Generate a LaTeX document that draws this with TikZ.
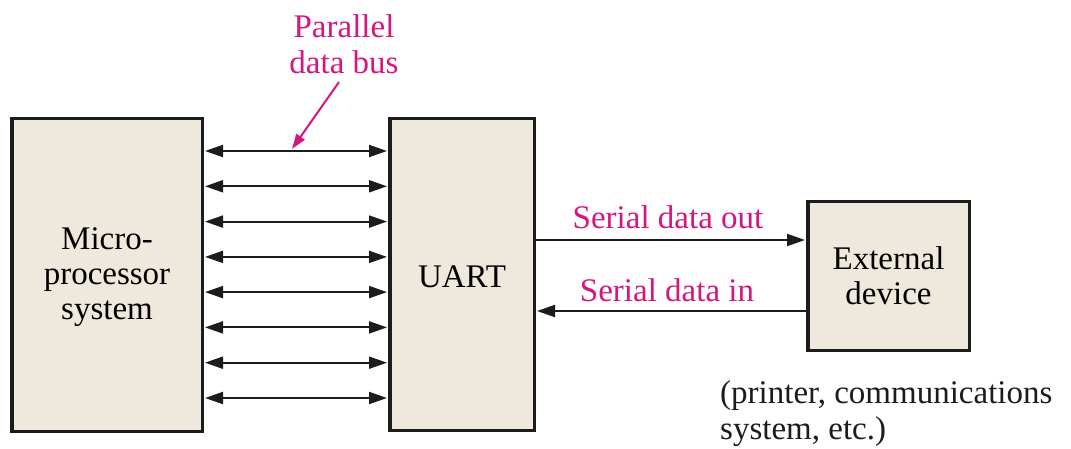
\documentclass[tikz,border=0pt]{standalone}
\usepackage{fontspec}
\setmainfont{Liberation Serif}
\usetikzlibrary{arrows.meta}
\definecolor{boxfill}{RGB}{238,233,220}
\definecolor{labelpink}{RGB}{214,22,126}
\definecolor{ink}{RGB}{28,28,28}
% invisible strut that lowers the first line of a block label a little
\newcommand{\firststrut}{\rule{0pt}{27pt}}
\begin{document}
\begin{tikzpicture}[x=1pt,y=-1pt,
  block/.style={draw=ink, line width=3.5pt, fill=boxfill, inner sep=0pt,
    align=center, font=\fontsize{33}{35}\selectfont},
  bus/.style={draw=ink, line width=2pt, {Triangle[length=18pt,width=12pt]}-{Triangle[length=18pt,width=12pt]}, shorten <=1pt, shorten >=1pt},
  serial/.style={draw=ink, line width=2pt, -{Triangle[length=18pt,width=12pt]}, shorten >=1pt},
  pinktext/.style={text=labelpink, align=center, font=\fontsize{33}{36}\selectfont, inner sep=0pt},
  plaintext/.style={text=ink, align=left, font=\fontsize{33}{36}\selectfont, inner sep=0pt},
  pointer/.style={draw=labelpink, line width=2pt, -{Triangle[length=15pt,width=10pt]}}
]
\useasboundingbox (0,0) rectangle (1071,449);

% blocks
\node[block, minimum width=190.5pt, minimum height=312.5pt] (micro) at (107,275)
  {\firststrut Micro-\\processor\\system};
\node[block, minimum width=144.5pt, minimum height=311.5pt] (uart) at (462,274.5)
  {\firststrut UART};
\node[block, minimum width=161.5pt, minimum height=148.5pt] (ext) at (888.5,276)
  {External\\device};

% eight-line parallel bus
\foreach \y in {151,186.3,221.6,256.9,292.1,327.4,362.7,398} {
  \draw[bus] (micro.east |- 0,\y) -- (uart.west |- 0,\y);
}

% serial links
\draw[serial] (uart.east |- 0,240) -- (ext.west |- 0,240);
\draw[serial] (ext.west |- 0,311) -- (uart.east |- 0,311);

% labels
\node[pinktext] (buslabel) at (344,44) {Parallel\\data bus};
\coordinate (pointerstart) at (339,82);
\coordinate (pointerend) at (292,149);
\draw[pointer] (pointerstart) -- (pointerend);

\node[pinktext, anchor=base] (outlabel) at (668,229) {Serial data out};
\node[pinktext, anchor=base] (inlabel) at (667,301) {Serial data in};

\node[plaintext, anchor=north west] (note) at (720,380)
  {(printer, communications\\system, etc.)};
\end{tikzpicture}
\end{document}
